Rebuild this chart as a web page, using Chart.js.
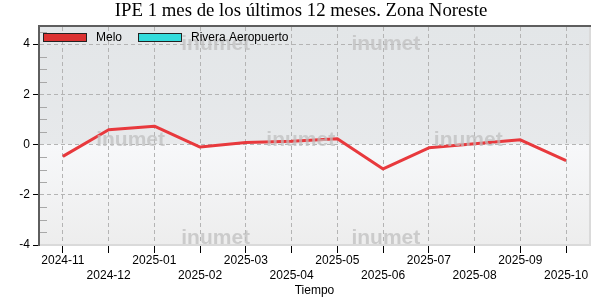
<!DOCTYPE html>
<html>
<head>
<meta charset="utf-8">
<script src="https://cdn.jsdelivr.net/npm/chart.js@4/dist/chart.umd.min.js"></script>
<style>
html, body { margin: 0; padding: 0; background: #fff; }
</style>
</head>
<body>
<canvas id="myChart" width="600" height="300"></canvas>
<script>
// data
var months = ['2024-11', '2024-12', '2025-01', '2025-02', '2025-03', '2025-04',
              '2025-05', '2025-06', '2025-07', '2025-08', '2025-09', '2025-10'];
var melo = [-0.47, 0.59, 0.73, -0.10, 0.08, 0.13, 0.23, -0.97, -0.13, 0.03, 0.19, -0.64];
var riveraAeropuerto = [];
var yTicks = [4, 2, 0, -2, -4];
var yMinorStep = 0.5;
var chartTitle = 'IPE 1 mes de los últimos 12 meses. Zona Noreste';

Chart.defaults.font.family = '"Liberation Sans", Arial, sans-serif';
Chart.defaults.font.size = 12;
Chart.defaults.color = '#000';

var panel = {
	id: 'panel',
	beforeDraw: function(chart) {
		var a = chart.chartArea, c = chart.ctx;
		var y0 = chart.scales.y.getPixelForValue(0);
		c.save();
		var g1 = c.createLinearGradient(0, a.top, 0, y0);
		g1.addColorStop(0, '#e3e6e8');
		g1.addColorStop(1, '#e7e9eb');
		c.fillStyle = g1;
		c.fillRect(a.left, a.top, a.right - a.left, y0 - a.top);
		var g2 = c.createLinearGradient(0, y0, 0, a.bottom);
		g2.addColorStop(0, '#f7f8fa');
		g2.addColorStop(1, '#ededed');
		c.fillStyle = g2;
		c.fillRect(a.left, y0, a.right - a.left, a.bottom - y0);
		c.restore();
	},
	beforeDatasetsDraw: function(chart) {
		// minor ticks on the inside of the y axis
		var a = chart.chartArea, c = chart.ctx, s = chart.scales.y;
		c.save();
		c.strokeStyle = '#a8a8a8';
		c.lineWidth = 1;
		for (var v = s.min; v <= s.max; v += yMinorStep) {
			if (yTicks.indexOf(v) >= 0) continue;
			var y = Math.round(s.getPixelForValue(v)) + 0.5;
			c.beginPath();
			c.moveTo(a.left, y);
			c.lineTo(a.left + 7, y);
			c.stroke();
		}
		c.restore();
	},
	afterDatasetsDraw: function(chart) {
		// inumet watermarks
		var a = chart.chartArea, c = chart.ctx;
		var w = a.right - a.left, h = a.bottom - a.top;
		var spots = [[0.32, 0.08], [0.63, 0.08],
		             [0.165, 0.52], [0.475, 0.52], [0.78, 0.52],
		             [0.32, 0.97], [0.63, 0.97]];
		c.save();
		c.font = 'bold 21px "Liberation Sans", Arial, sans-serif';
		c.fillStyle = 'rgba(190,190,190,0.72)';
		c.textAlign = 'center';
		c.textBaseline = 'middle';
		spots.forEach(function(p) {
			c.fillText('inumet', a.left + p[0] * w, a.top + p[1] * h);
		});
		c.restore();
	},
	afterDraw: function(chart) {
		var a = chart.chartArea, c = chart.ctx;
		c.save();
		// title, centred on the whole canvas
		c.font = '18.8px "Liberation Serif", "Times New Roman", serif';
		c.fillStyle = '#000';
		c.textAlign = 'center';
		c.textBaseline = 'middle';
		c.fillText(chartTitle, chart.width / 2 + 1, 11.5);
		// legend inside the panel
		var x = a.left + 3, y = a.top + 6;
		c.font = '12px "Liberation Sans", Arial, sans-serif';
		c.textAlign = 'left';
		chart.data.datasets.forEach(function(ds) {
			c.fillStyle = ds.backgroundColor;
			c.fillRect(x, y, 44, 9);
			c.strokeStyle = '#222';
			c.lineWidth = 1;
			c.strokeRect(x + 0.5, y + 0.5, 43, 8);
			c.fillStyle = '#000';
			c.fillText(ds.label, x + 53, y + 4.5);
			x += 53 + c.measureText(ds.label).width + 16;
		});
		// panel frame: dark top/left, light bottom/right
		c.fillStyle = '#5e5e5e';
		c.fillRect(a.left - 2, a.top - 2, a.right - a.left + 4, 2);
		c.fillRect(a.left - 2, a.top - 2, 2, a.bottom - a.top + 3);
		c.fillStyle = '#dadada';
		c.fillRect(a.right, a.top, 2, a.bottom - a.top + 1);
		c.fillRect(a.left, a.bottom - 1, a.right - a.left + 2, 2);
		c.restore();
	}
};

var ctx = document.getElementById('myChart').getContext('2d');
var myChart = new Chart(ctx, {
	type: 'line',
	data: {
		labels: months,
		datasets: [{
			label: 'Melo',
			data: melo,
			borderColor: '#e8393d',
			backgroundColor: '#dc3232',
			borderWidth: 3,
			pointRadius: 0,
			borderJoinStyle: 'round',
			tension: 0
		}, {
			label: 'Rivera Aeropuerto',
			data: riveraAeropuerto,
			borderColor: '#30d8d8',
			backgroundColor: '#33dcdc',
			borderWidth: 3,
			pointRadius: 0
		}]
	},
	options: {
		responsive: false,
		animation: false,
		layout: { padding: { left: 0, right: 11, top: 27, bottom: 0 } },
		plugins: {
			legend: { display: false },
			tooltip: { enabled: false },
			title: { display: false }
		},
		scales: {
			x: {
				type: 'category',
				offset: true,
				afterFit: function(s) { s.height = 55; },
				grid: {
					offset: false,
					color: '#b4b4b4',
					tickColor: '#000',
					tickLength: 8
				},
				border: { display: false, dash: [4, 3] },
				ticks: {
					autoSkip: false,
					maxRotation: 0,
					padding: 0,
					font: { size: 12, lineHeight: 1.25 },
					callback: function(v, i) {
						return i % 2 ? ['', months[i]] : months[i];
					}
				},
				title: {
					display: true,
					text: 'Tiempo',
					font: { size: 12 },
					padding: { top: 0, bottom: 2 }
				}
			},
			y: {
				min: -4,
				max: 4.68,
				afterFit: function(s) { s.width = 40; },
				afterBuildTicks: function(s) {
					s.ticks = yTicks.map(function(v) { return { value: v }; });
				},
				grid: {
					color: '#b4b4b4',
					tickColor: '#000',
					tickLength: 7
				},
				border: { display: false, dash: [4, 3] },
				ticks: { padding: 3, font: { size: 12 } }
			}
		}
	},
	plugins: [panel]
});
</script>
</body>
</html>
